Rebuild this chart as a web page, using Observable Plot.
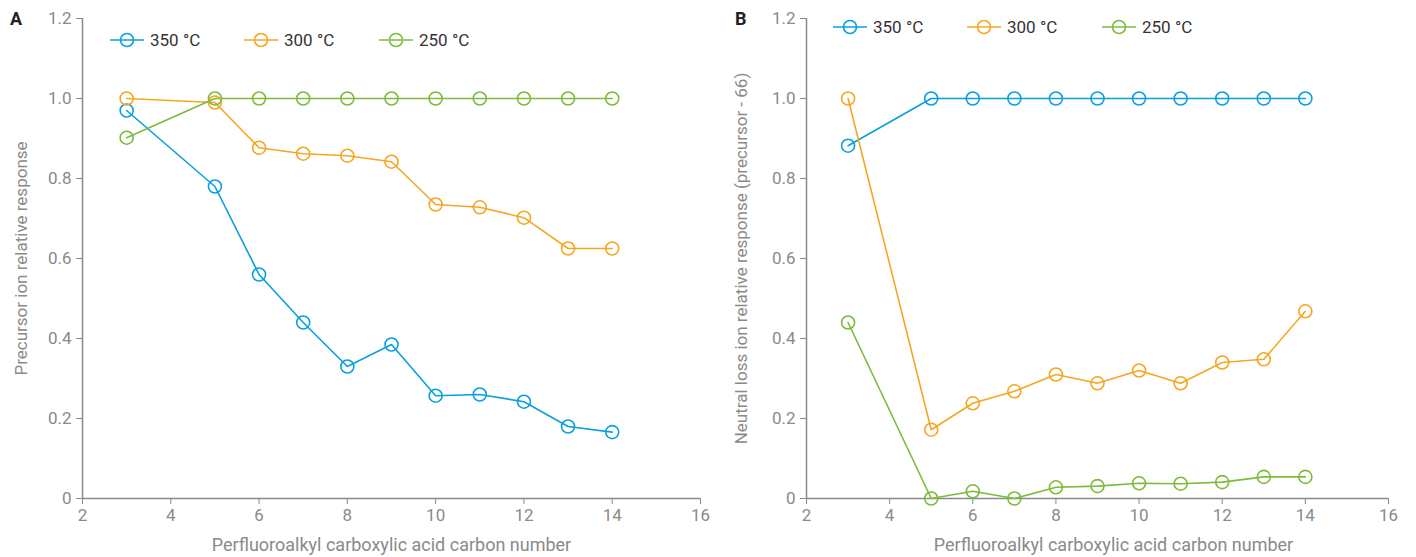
<!DOCTYPE html>
<html>
<head>
<meta charset="utf-8">
<script src="https://cdn.jsdelivr.net/npm/d3@7"></script>
<script src="https://cdn.jsdelivr.net/npm/@observablehq/plot@0.6"></script>
<style>
  html, body { margin: 0; padding: 0; background: #fff; }
  body { width: 1416px; height: 557px; position: relative; overflow: hidden; font-family: Roboto, "Noto Sans", sans-serif; }
  .panel { position: absolute; top: 0; }
  .plabel { position: absolute; font-weight: 700; font-size: 18px; color: #222; }
  .leg { position: absolute; display: flex; align-items: center; font-size: 17px; color: #333; }
  .leg svg { display: block; margin-right: 6px; }
</style>
</head>
<body>
<div id="A" class="panel" style="left:0px"></div>
<div id="B" class="panel" style="left:720px"></div>
<div class="plabel" style="left:10px; top:8px">A</div>
<div class="plabel" style="left:735px; top:8px">B</div>
<script>
// ---- data ----
const carbon = [3, 5, 6, 7, 8, 9, 10, 11, 12, 13, 14];
const seriesNames = ["350 °C", "300 °C", "250 °C"];
const seriesColors = ["#0aa0de", "#f5a623", "#7cbb3c"];

// Panel A: precursor ion relative response
const precursor350 = [0.97, 0.78, 0.56, 0.44, 0.33, 0.385, 0.257, 0.26, 0.242, 0.18, 0.166];
const precursor300 = [1.0, 0.99, 0.877, 0.862, 0.857, 0.842, 0.735, 0.728, 0.702, 0.625, 0.625];
const precursor250 = [0.902, 1.0, 1.0, 1.0, 1.0, 1.0, 1.0, 1.0, 1.0, 1.0, 1.0];

// Panel B: neutral loss ion relative response (precursor - 66)
const neutral350 = [0.882, 1.0, 1.0, 1.0, 1.0, 1.0, 1.0, 1.0, 1.0, 1.0, 1.0];
const neutral300 = [1.0, 0.172, 0.238, 0.268, 0.31, 0.288, 0.32, 0.288, 0.34, 0.348, 0.468];
const neutral250 = [0.44, 0.0, 0.018, 0.0, 0.028, 0.031, 0.038, 0.037, 0.041, 0.054, 0.054];

const xTicks = [2, 4, 6, 8, 10, 12, 14, 16];
const yTicks = [0, 0.2, 0.4, 0.6, 0.8, 1.0, 1.2];
const xLabel = "Perfluoroalkyl carboxylic acid carbon number";
const yLabelA = "Precursor ion relative response";
const yLabelB = "Neutral loss ion relative response (precursor - 66)";

function toRows(arrays) {
  const rows = [];
  arrays.forEach((vals, si) => {
    vals.forEach((v, i) => rows.push({ carbon: carbon[i], value: v, series: seriesNames[si] }));
  });
  return rows;
}

const axisColor = "#8a8a8a";

function makePlot(rows, yLabel, opts) {
  return Plot.plot({
    width: opts.width,
    height: 557,
    marginLeft: opts.marginLeft,
    marginRight: opts.marginRight,
    marginTop: 18,
    marginBottom: 59,
    style: { fontFamily: "Roboto, sans-serif", fontSize: "17px", background: "transparent" },
    x: { domain: [2, 16] },
    y: { domain: [0, 1.2] },
    color: { domain: seriesNames, range: seriesColors },
    marks: [
      Plot.ruleX([2], { stroke: axisColor, strokeWidth: 1.5 }),
      Plot.ruleY([0], { stroke: axisColor, strokeWidth: 1.5 }),
      Plot.axisX({
        ticks: xTicks, tickSize: 6, tickPadding: 4, color: axisColor, fontSize: 17, label: null
      }),
      Plot.text([xLabel], {
        frameAnchor: "bottom", lineAnchor: "middle", dy: 47, dx: opts.xLabelDx,
        fill: axisColor, fontSize: 18, text: d => d
      }),
      Plot.axisY({
        ticks: yTicks, tickSize: 6, tickPadding: 5, color: axisColor, fontSize: 17,
        tickFormat: d => d === 0 ? "0" : d3.format(".1f")(d),
        label: yLabel, labelAnchor: "center", labelArrow: "none", labelOffset: opts.labelOffset
      }),
      Plot.line(rows, { x: "carbon", y: "value", z: "series", stroke: "series", strokeWidth: 1.6 }),
      Plot.dot(rows, { x: "carbon", y: "value", stroke: "series", r: 6.5, strokeWidth: 1.6, fill: "none" })
    ]
  });
}

const plotA = makePlot(toRows([precursor350, precursor300, precursor250]), yLabelA,
  { width: 710, marginLeft: 82, marginRight: 10, labelOffset: 68, xLabelDx: 0 });
const plotB = makePlot(toRows([neutral350, neutral300, neutral250]), yLabelB,
  { width: 696, marginLeft: 86, marginRight: 28, labelOffset: 72, xLabelDx: 16 });
document.getElementById("A").appendChild(plotA);
document.getElementById("B").appendChild(plotB);

// legends
function addLegend(positions, top) {
  seriesNames.forEach((name, i) => {
    const div = document.createElement("div");
    div.className = "leg";
    div.style.left = positions[i] + "px";
    div.style.top = (top - 10) + "px";
    div.style.height = "20px";
    div.innerHTML = `<svg width="34" height="20"><line x1="0" x2="34" y1="10" y2="10" stroke="${seriesColors[i]}" stroke-width="1.6"/><circle cx="17" cy="10" r="6.5" fill="none" stroke="${seriesColors[i]}" stroke-width="1.6"/></svg><span>${name}</span>`;
    document.body.appendChild(div);
  });
}
addLegend([110, 244, 379], 40);
addLegend([833, 967, 1102], 27);
</script>
</body>
</html>
